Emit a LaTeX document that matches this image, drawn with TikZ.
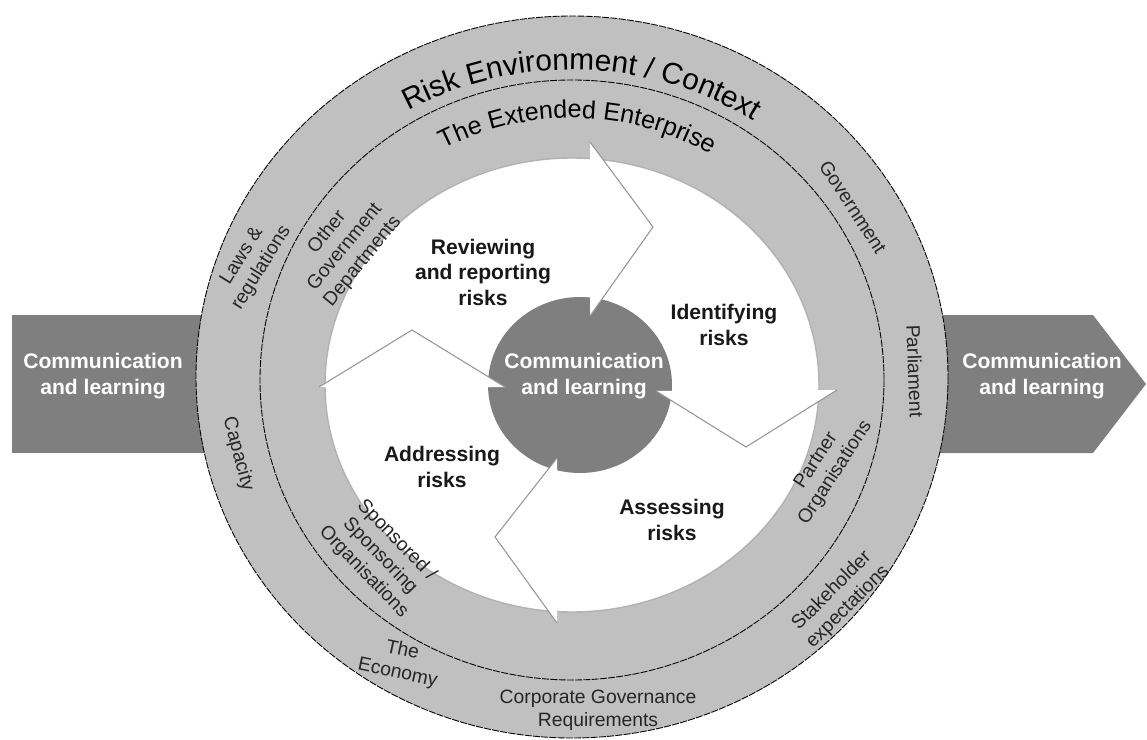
\documentclass[tikz,border=0pt]{standalone}
\usepackage{fontspec}
\setmainfont{Liberation Sans}
\usetikzlibrary{decorations.text}
\definecolor{ringgray}{RGB}{192,192,192}
\definecolor{hubgray}{RGB}{127,127,127}
\definecolor{edgegray}{RGB}{150,150,150}

\begin{document}
\begin{tikzpicture}[x=0.02cm, y=-0.02cm,
  ringline/.style={draw=black, line width=0.5pt, dash pattern=on 4pt off 0.7pt},
  ringtext/.style={font=\fontsize{11}{13}\selectfont, align=center, text=black!85},
  steptext/.style={font=\bfseries\fontsize{12}{14.5}\selectfont, align=center, text=black!90},
  commtext/.style={font=\bfseries\fontsize{12}{15}\selectfont, align=center, text=white},
  chevron/.style={draw=edgegray, line width=0.6pt, line join=miter}]
     \useasboundingbox (0,0) rectangle (1147,740);
     \fill[hubgray] (12,315) rectangle (300,453);
     \fill[hubgray] (850,315) -- (1093,315) -- (1146,384) -- (1093,453) -- (850,453) -- cycle;
     \filldraw[fill=ringgray, ringline] (572,377) ellipse [x radius=376, y radius=361];
     \draw[ringline] (572,380) ellipse [x radius=312, y radius=300];
     \filldraw[fill=white, draw=gray!60, line width=0.8pt] (572,385) ellipse [x radius=247, y radius=227];
     \fill[hubgray] (580,385) ellipse [x radius=92, y radius=88];
     % arrow heads of the cycle
     \coordinate (topout) at (590,142);
     \coordinate (toptip) at (653,227);
     \coordinate (topin) at (590,316);
     \coordinate (rightout) at (837,390);
     \coordinate (righttip) at (746,447);
     \coordinate (rightin) at (656,391);
     \coordinate (botout) at (557,623);
     \coordinate (bottip) at (495,537);
     \coordinate (botin) at (557,458);
     \coordinate (leftout) at (319,387);
     \coordinate (lefttip) at (412,330);
     \coordinate (leftin) at (505,387);
     \fill[white] (topout) -- (toptip) -- (topin) -- cycle;
     \draw[chevron] (topout) -- (toptip) -- (topin);
     \fill[white] (rightout) -- (righttip) -- (rightin) -- cycle;
     \draw[chevron] (rightout) -- (righttip) -- (rightin);
     \fill[white] (botout) -- (bottip) -- (botin) -- cycle;
     \draw[chevron] (botout) -- (bottip) -- (botin);
     \fill[white] (leftout) -- (lefttip) -- (leftin) -- cycle;
     \draw[chevron] (leftout) -- (lefttip) -- (leftin);
     % ring titles
     \path[decorate, decoration={text along path, text align=center,
       text={|\fontsize{17}{19}\selectfont|Risk Environment / Context}}]
       (301.7,201.3) arc[start angle=-145, end angle=-31.2, x radius=330, y radius=308];
     \path[decorate, decoration={text along path, text align=center,
       text={|\fontsize{14.3}{16}\selectfont|The Extended Enterprise}}]
       (341.3,241.2) arc[start angle=-148, end angle=-29.4, x radius=272, y radius=262];
     \node[commtext] (leftcomm) at (103,376) {Communication\\and learning};
     \node[commtext] (rightcomm) at (1042,376) {Communication\\and learning};
     \node[commtext] (hubcomm) at (584,376) {Communication\\and learning};
     \node[steptext] (review) at (483,272) {Reviewing\\and reporting\\risks};
     \node[steptext] (identify) at (724,325) {Identifying\\risks};
     \node[steptext] (assess) at (672,520) {Assessing\\risks};
     \node[steptext] (address) at (442,467) {Addressing\\risks};
     \node[ringtext, rotate=58] (laws) at (252,262) {Laws \&\\regulations};
     \node[ringtext, rotate=51] (otherdept) at (345,247) {Other\\Government\\Departments};
     \node[ringtext, rotate=-57] (govt) at (853,207) {Government};
     \node[ringtext, rotate=-88] (parl) at (915,371) {Parliament};
     \node[ringtext, rotate=-75] (capacity) at (238,454) {Capacity};
     \node[ringtext, rotate=-12] (economy) at (400,662) {The\\Economy};
     \node[ringtext] (corpgov) at (598,710) {Corporate Governance\\Requirements};
     \node[ringtext, rotate=45] (stake) at (840,599) {Stakeholder\\expectations};
     \node[ringtext, rotate=57] (partner) at (826,467) {Partner\\Organisations};
     \node[ringtext, rotate=-46] (sponsor) at (380,556) {Sponsored /\\Sponsoring\\Organisations};
\end{tikzpicture}
\end{document}
